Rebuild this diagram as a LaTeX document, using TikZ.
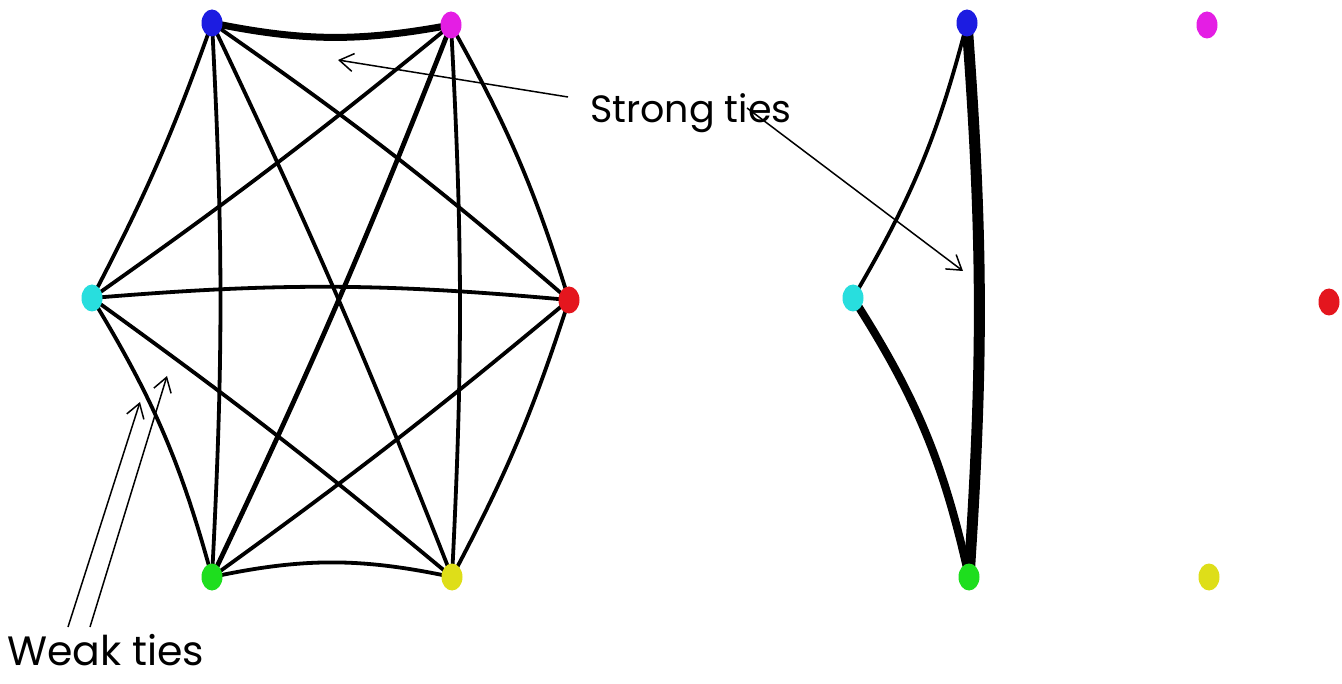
\documentclass[tikz,border=0pt]{standalone}
\usepackage{fontspec}
\setmainfont{Poppins}
\usetikzlibrary{arrows.meta,backgrounds,shapes.geometric}
\definecolor{nblue}{RGB}{28,28,225}
\definecolor{nmag}{RGB}{228,30,228}
\definecolor{ncyan}{RGB}{40,222,222}
\definecolor{nred}{RGB}{228,22,30}
\definecolor{ngreen}{RGB}{30,222,30}
\definecolor{nyellow}{RGB}{222,222,25}
\begin{document}
\begin{tikzpicture}[x=1pt,y=1pt,
  vert/.style={ellipse,draw=none,minimum width=21pt,minimum height=27pt,inner sep=0pt},
  tie/.style={line width=3.8pt,black},
  midtie/.style={line width=4.8pt,black},
  strongtie/.style={line width=7pt,black},
  heavytie/.style={line width=11pt,black},
  semitie/.style={line width=8pt,black},
  lbl/.style={inner sep=0pt},
  pointer/.style={line width=1.5pt,-{Straight Barb[length=14pt,width=18pt]}}]
\useasboundingbox (0,-684) rectangle (1342,0);
% left graph nodes
\node[vert,fill=nblue]   (B1) at (212,-23)  {};
\node[vert,fill=nmag]    (M1) at (451,-25)  {};
\node[vert,fill=ncyan]   (C1) at (92,-298)  {};
\node[vert,fill=nred]    (R1) at (569,-300) {};
\node[vert,fill=ngreen]  (G1) at (212,-577) {};
\node[vert,fill=nyellow] (Y1) at (452,-577) {};
% right graph nodes
\node[vert,fill=nblue]   (B2) at (967,-23)  {};
\node[vert,fill=nmag]    (M2) at (1207,-25) {};
\node[vert,fill=ncyan]   (C2) at (853,-298) {};
\node[vert,fill=nred]    (R2) at (1329,-302) {};
\node[vert,fill=ngreen]  (G2) at (969,-577) {};
\node[vert,fill=nyellow] (Y2) at (1209,-577) {};
\begin{scope}[on background layer]
  % left graph: complete graph
  \draw[strongtie] (B1.center) to[bend right=11] (M1.center);
  \draw[tie] (C1.center) to[bend left=5] (R1.center);
  \draw[tie] (G1.center) to[bend left=12] (Y1.center);
  \draw[tie] (B1.center) to[bend left=4] (C1.center);
  \draw[tie] (C1.center) to[bend left=8] (G1.center);
  \draw[tie] (M1.center) to[bend left=6] (R1.center);
  \draw[tie] (R1.center) to[bend left=5] (Y1.center);
  \draw[tie] (B1.center) to[bend left=3] (G1.center);
  \draw[tie] (M1.center) to[bend left=3] (Y1.center);
  \draw[tie] (B1.center) to[bend left=3] (R1.center);
  \draw[tie] (B1.center) to[bend left=2] (Y1.center);
  \draw[tie] (M1.center) to[bend left=2] (C1.center);
  \draw[midtie] (M1.center) to[bend left=2] (G1.center);
  \draw[tie] (C1.center) to[bend left=2] (Y1.center);
  \draw[tie] (R1.center) to[bend left=2] (G1.center);
  % right graph
  \draw[heavytie] (B2.center) to[bend left=4] (G2.center);
  \draw[semitie] (C2.center) to[bend left=10] (G2.center);
  \draw[tie] (C2.center) to[bend right=8] (B2.center);
\end{scope}
% labels
\node[lbl,anchor=base west,font=\fontsize{38}{46}\selectfont] (strong) at (590,-123) {Strong ties};
\node[lbl,anchor=base west,font=\fontsize{41}{49}\selectfont] (weak) at (7,-665) {Weak ties};
% pointers
\coordinate (s1a) at (568,-97);
\coordinate (s1b) at (338,-60);
\coordinate (s2a) at (747,-108);
\coordinate (s2b) at (963,-271);
\coordinate (w1a) at (68,-627);
\coordinate (w1b) at (140,-402);
\coordinate (w2a) at (90,-627);
\coordinate (w2b) at (167,-376);
\draw[pointer] (s1a) -- (s1b);
\draw[pointer] (s2a) -- (s2b);
\draw[pointer] (w1a) -- (w1b);
\draw[pointer] (w2a) -- (w2b);
\end{tikzpicture}
\end{document}
